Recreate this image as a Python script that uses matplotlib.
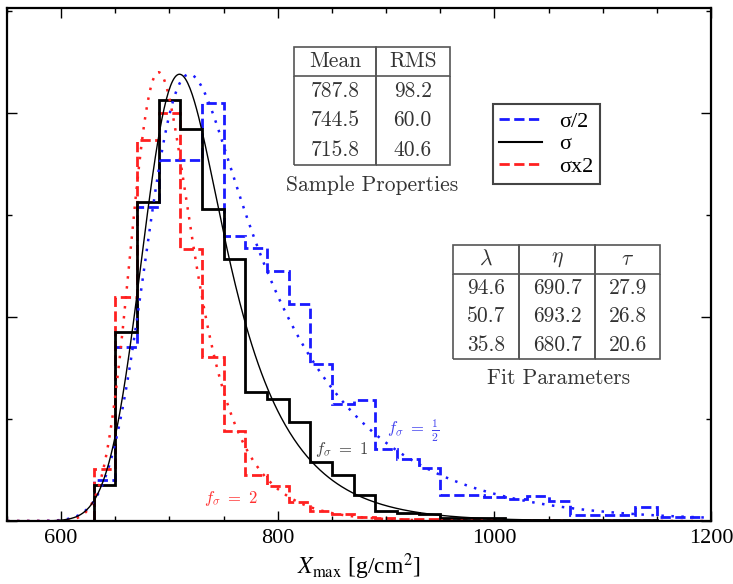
import math
import numpy as np
import matplotlib
matplotlib.use('Agg')
import matplotlib.pyplot as plt
from matplotlib.lines import Line2D
from matplotlib.ticker import MultipleLocator

plt.rcParams['font.family'] = ['Liberation Serif', 'DejaVu Serif']
plt.rcParams['mathtext.fontset'] = 'stix'

# ----------------------------------------------------------------------
# data, histograms use 20 g/cm2 bins from 630
# ----------------------------------------------------------------------
bin_start = 630
bin_width = 20

hist_half = [0.40, 1.71, 3.08, 3.54, 3.54, 4.10, 2.79, 2.68, 2.45, 2.13,
             1.54, 1.15, 1.19, 0.71, 0.61, 0.52, 0.255, 0.255, 0.24, 0.22,
             0.245, 0.20, 0.06, 0.06, 0.06, 0.14, 0.04, 0.04]
hist_one = [0.35, 1.85, 3.13, 4.13, 3.84, 3.06, 2.57, 1.26, 1.20, 0.97,
            0.58, 0.45, 0.255, 0.10, 0.075, 0.07, 0.03, 0.03, 0.03, 0.01,
            0.01, 0.01, 0.01, 0.01, 0.01, 0.01]
hist_two = [0.51, 2.20, 3.74, 4.00, 2.67, 1.61, 0.88, 0.45, 0.34, 0.19,
            0.10, 0.07, 0.04, 0.03, 0.02, 0.015, 0.01, 0.01, 0.005]

labels = ['σ/2', 'σ', 'σx2']
colors = ['#1a1aff', 'black', '#ff2020']

# sample properties
mean_vals = ['787.8', '744.5', '715.8']
rms_vals = ['98.2', '60.0', '40.6']

# fit parameters (exponentially modified gaussian)
lam = [94.6, 50.7, 35.8]
eta = [690.7, 693.2, 680.7]
tau = [27.9, 26.8, 20.6]
# peak height and position of the drawn fit curves
curve_peak = [4.38, 4.38, 4.40]
curve_mode = [718.0, 709.5, 689.6]


def exgauss(x, l, m, s):
    erfc = np.vectorize(math.erfc)
    return (1.0 / (2 * l)) * np.exp((2 * m + s ** 2 / l - 2 * x) / (2 * l)) * \
        erfc((m + s ** 2 / l - x) / (math.sqrt(2) * s))


fig = plt.figure(figsize=(7.33, 5.84), dpi=100)
ax = fig.add_axes([7 / 733, 1 - 521 / 584, 704 / 733, 513 / 584])

# ----------------------------------------------------------------------
# histograms
# ----------------------------------------------------------------------
for vals, col, ls in zip([hist_half, hist_two, hist_one],
                         [colors[0], colors[2], colors[1]],
                         ['--', '--', '-']):
    edges = bin_start + bin_width * np.arange(len(vals) + 1)
    ax.stairs(vals, edges, color=col, linestyle=ls, linewidth=2, baseline=0)

# fitted curves
xx = np.linspace(550, 1200, 651)
curve_styles = [(0, (1, 3)), '-', (0, (1, 3))]
curve_lw = [1.8, 1.0, 1.8]
for i in [0, 2, 1]:
    yy = exgauss(xx, lam[i], eta[i], tau[i])
    shift = curve_mode[i] - xx[np.argmax(yy)]
    yy = exgauss(xx - shift, lam[i], eta[i], tau[i])
    yy = yy / yy.max() * curve_peak[i]
    ax.plot(xx, yy, color=colors[i], linestyle=curve_styles[i], linewidth=curve_lw[i])

# ----------------------------------------------------------------------
# axes
# ----------------------------------------------------------------------
ax.set_xlim(550, 1200)
ax.set_ylim(0, 513 / 102)
ax.xaxis.set_major_locator(MultipleLocator(200))
ax.xaxis.set_minor_locator(MultipleLocator(50))
ax.yaxis.set_major_locator(MultipleLocator(2))
ax.yaxis.set_minor_locator(MultipleLocator(1))
ax.set_yticklabels([])
ax.tick_params(which='both', direction='in', top=True, right=True, width=1)
ax.tick_params(which='major', length=7, labelsize=16, pad=6)
ax.tick_params(which='minor', length=3.5)
for sp in ax.spines.values():
    sp.set_linewidth(1.6)
ax.set_xlabel(r'$X_{\mathrm{max}}$ [g/cm$^2$]', fontsize=17, labelpad=2)

# legend
handles = [Line2D([], [], color=colors[0], ls='--', lw=2),
           Line2D([], [], color=colors[1], ls='-', lw=1.5),
           Line2D([], [], color=colors[2], ls='--', lw=2)]
leg = ax.legend(handles, labels, loc='upper left', bbox_to_anchor=(0.69, 0.812),
                fontsize=16, fancybox=False, handlelength=1.9, handletextpad=0.8,
                labelspacing=0.1, borderpad=0.3, borderaxespad=0, framealpha=1)
leg.get_frame().set_edgecolor('#444444')
leg.get_frame().set_linewidth(1.5)


# tables
def add_table(cells, bbox, col_widths, fs):
    tb = ax.table(cellText=cells, bbox=bbox, cellLoc='center', colWidths=col_widths)
    tb.auto_set_font_size(False)
    nrows = len(cells)
    for (r, c), cell in tb.get_celld().items():
        cell.set_edgecolor('#555555')
        cell.set_linewidth(1.2)
        cell.set_facecolor('none')
        if r == 0:
            cell.visible_edges = 'closed'
        elif r == nrows - 1:
            cell.visible_edges = 'BLR'
        else:
            cell.visible_edges = 'LR'
        t = cell.get_text()
        t.set_fontfamily('cmr10')
        t.set_fontsize(fs)
        t.set_color('#333333')
        t.set_math_fontfamily('cm')
    return tb


sample_cells = [['Mean', 'RMS']] + [[m, r] for m, r in zip(mean_vals, rms_vals)]
add_table(sample_cells, [0.408, 0.694, 0.221, 0.2306], [81, 74], 15.5)
ax.text(0.518, 0.655, 'Sample Properties', transform=ax.transAxes, ha='center',
        va='center', family='cmr10', fontsize=15.5, color='#333333')

fit_cells = [[r'$\lambda$', r'$\eta$', r'$\tau$']] + \
    [['%.1f' % a, '%.1f' % b, '%.1f' % c] for a, b, c in zip(lam, eta, tau)]
add_table(fit_cells, [0.634, 0.315, 0.2936, 0.223], [66, 76, 65], 15.5)
ax.text(0.783, 0.278, 'Fit Parameters', transform=ax.transAxes, ha='center',
        va='center', family='cmr10', fontsize=15.5, color='#333333')

# annotations
ax.text(901, 0.88, r'$f_\sigma\ =\ \frac{1}{2}$', color='#4040ee', fontsize=12,
        math_fontfamily='cm', va='center')
ax.text(834, 0.70, r'$f_\sigma\ =\ 1$', color='#444444', fontsize=12,
        math_fontfamily='cm', va='center')
ax.text(732, 0.22, r'$f_\sigma\ =\ 2$', color='#ff3030', fontsize=12,
        math_fontfamily='cm', va='center')

fig.savefig('out.png', dpi=100)
